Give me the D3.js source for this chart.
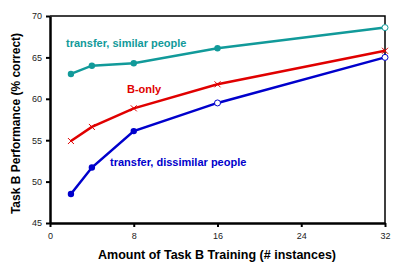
<!DOCTYPE html>
<html>
<head>
<meta charset="utf-8">
<script src="https://cdn.jsdelivr.net/npm/d3@7"></script>
<style>
  body { margin: 0; background: #fff; }
  text { font-family: "Liberation Sans", Arial, sans-serif; }
</style>
</head>
<body>
<div id="chart"></div>
<script>
const trainingSizes = [2, 4, 8, 16, 32]
const similarValues = [63.0, 64.0, 64.3, 66.1, 68.6]
const bOnlyValues = [54.9, 56.6, 58.85, 61.75, 65.8]
const dissimilarValues = [48.5, 51.7, 56.1, 59.5, 65.0]
const xTicks = [0, 8, 16, 24, 32]
const yTicks = [45, 50, 55, 60, 65, 70]

const series = [
  { name: "transfer, similar people", values: similarValues, color: "#119a9a",
    marker: ["dot", "dot", "dot", "dot", "ring"], label: [66, 47] },
  { name: "B-only", values: bOnlyValues, color: "#e00000",
    marker: ["x", "x", "x", "x", "x"], label: [127, 93] },
  { name: "transfer, dissimilar people", values: dissimilarValues, color: "#0000cc",
    marker: ["dot", "dot", "dot", "ring", "ring"], label: [110, 166] }
]

const width = 400
const height = 275
const margin = { top: 16, right: 15, bottom: 52, left: 50 }
const innerWidth = width - margin.left - margin.right
const innerHeight = height - margin.top - margin.bottom

const svg = d3.select("#chart")
  .append("svg")
    .attr("width", width)
    .attr("height", height)

const chart = svg.append("g")
  .attr("transform", `translate(${margin.left}, ${margin.top})`)

const xScale = d3.scaleLinear().domain([0, 32]).range([0, innerWidth])
const yScale = d3.scaleLinear().domain([45, 70]).range([innerHeight, 0])

// frame top/right
chart.append("path")
  .attr("d", `M0,0H${innerWidth}V${innerHeight}`)
  .attr("fill", "none")
  .attr("stroke", "#000")
  .attr("stroke-width", 1.5)

const xAxis = d3.axisBottom(xScale).tickValues(xTicks).tickSize(4).tickSizeOuter(0)
const yAxis = d3.axisLeft(yScale).tickValues(yTicks).tickSize(4).tickSizeOuter(0)

const gx = chart.append("g")
  .attr("transform", `translate(0, ${innerHeight})`)
  .call(xAxis)
const gy = chart.append("g").call(yAxis)

for (const g of [gx, gy]) {
  g.select(".domain").attr("stroke", "#000").attr("stroke-width", 2.5)
  g.selectAll(".tick line").attr("stroke", "#000").attr("stroke-width", 2)
  g.selectAll(".tick text")
    .attr("font-size", 9)
    .attr("fill", "#222")
    .style("font-family", "'Liberation Sans', Arial, sans-serif")
}
gx.selectAll(".tick text").attr("y", 10)
gy.selectAll(".tick text").attr("x", -8)

const line = d3.line()
  .x(d => xScale(d[0]))
  .y(d => yScale(d[1]))

series.forEach(s => {
  const pts = trainingSizes.map((t, i) => [t, s.values[i]])
  chart.append("path")
    .attr("d", line(pts))
    .attr("fill", "none")
    .attr("stroke", s.color)
    .attr("stroke-width", 2.5)

  pts.forEach((p, i) => {
    const cx = xScale(p[0])
    const cy = yScale(p[1])
    const m = s.marker[i]
    if (m === "dot") {
      chart.append("circle")
        .attr("cx", cx).attr("cy", cy).attr("r", 3.2)
        .attr("fill", s.color)
    } else if (m === "ring") {
      chart.append("circle")
        .attr("cx", cx).attr("cy", cy).attr("r", 3)
        .attr("fill", "#fff")
        .attr("stroke", s.color)
        .attr("stroke-width", 1)
    } else {
      chart.append("path")
        .attr("d", `M${cx - 3},${cy - 3}L${cx + 3},${cy + 3}M${cx - 3},${cy + 3}L${cx + 3},${cy - 3}`)
        .attr("stroke", s.color)
        .attr("stroke-width", 1)
    }
  })

  svg.append("text")
    .attr("x", s.label[0])
    .attr("y", s.label[1])
    .attr("font-size", 11)
    .attr("font-weight", "bold")
    .attr("fill", s.color)
    .text(s.name)
})

svg.append("text")
  .attr("x", 217)
  .attr("y", 259)
  .attr("text-anchor", "middle")
  .attr("font-size", 12.5)
  .attr("font-weight", "bold")
  .text("Amount of Task B Training (# instances)")

svg.append("text")
  .attr("transform", `translate(20, ${margin.top + innerHeight / 2 + 4}) rotate(-90)`)
  .attr("text-anchor", "middle")
  .attr("font-size", 12)
  .attr("font-weight", "bold")
  .text("Task B Performance (% correct)")
</script>
</body>
</html>
